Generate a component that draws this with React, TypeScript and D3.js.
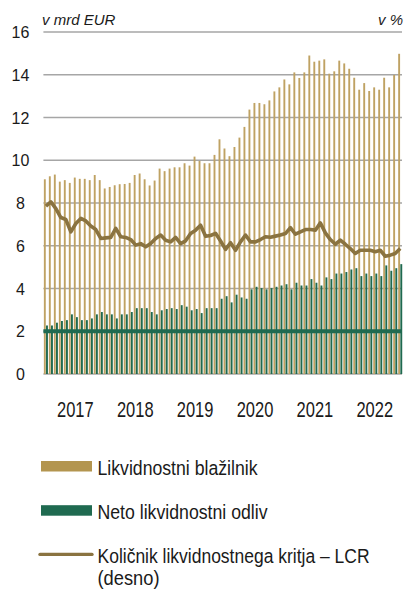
import React from "react";
import * as d3 from "d3";

// Monthly data, Jan 2017 – Dec 2022
const years = ["2017", "2018", "2019", "2020", "2021", "2022"];
const yTicks = [0, 2, 4, 6, 8, 10, 12, 14, 16];

// Likvidnostni blažilnik (v mrd EUR)
const buffer = [
  9.11, 9.25, 9.33, 9.0, 9.07, 8.94, 9.19, 9.13, 9.13, 9.07, 9.31, 9.07,
  8.68, 8.75, 8.83, 8.88, 8.89, 8.94, 9.31, 9.38, 9.11, 8.82, 9.05, 9.61,
  9.49, 9.61, 9.67, 9.67, 9.86, 9.75, 10.17, 9.97, 9.86, 9.86, 10.25, 10.98,
  10.55, 10.19, 10.62, 11.06, 11.56, 12.37, 12.68, 12.68, 12.62, 12.8, 13.22, 13.41,
  13.78, 13.55, 14.11, 13.85, 14.11, 14.9, 14.61, 14.66, 14.72, 14.05, 14.16, 14.66,
  14.53, 14.28, 13.86, 13.3, 13.61, 13.24, 13.41, 13.3, 13.86, 13.41, 13.99, 14.98,
];

// Neto likvidnostni odliv (v mrd EUR)
const outflow = [
  2.27, 2.27, 2.4, 2.48, 2.52, 2.79, 2.66, 2.52, 2.52, 2.6, 2.79, 2.9,
  2.79, 2.79, 2.6, 2.79, 2.79, 2.9, 3.08, 3.08, 3.08, 2.9, 2.79, 2.98,
  3.04, 3.08, 3.04, 3.22, 3.15, 2.98, 3.04, 2.85, 3.08, 3.08, 3.08, 3.52,
  3.64, 3.35, 3.71, 3.58, 3.52, 3.96, 4.08, 4.02, 3.96, 4.02, 4.08, 4.14,
  4.2, 3.96, 4.27, 4.14, 4.14, 4.44, 4.27, 4.14, 4.52, 4.44, 4.7, 4.7,
  4.77, 4.89, 4.95, 4.58, 4.7, 4.58, 4.7, 4.58, 5.08, 4.83, 4.95, 5.14,
];

// Količnik likvidnostnega kritja – LCR (desno), drawn in left-axis units
const lcr = [
  7.85, 8.05, 7.74, 7.32, 7.23, 6.65, 7.04, 7.28, 7.16, 6.92, 6.76, 6.34,
  6.37, 6.39, 6.81, 6.42, 6.39, 6.29, 6.03, 6.1, 5.95, 6.1, 6.34, 6.5,
  6.26, 6.18, 6.39, 6.1, 6.23, 6.57, 6.73, 6.96, 6.44, 6.48, 6.58, 6.22,
  5.83, 6.14, 5.79, 6.18, 6.5, 6.18, 6.18, 6.29, 6.42, 6.4, 6.45, 6.5,
  6.57, 6.85, 6.54, 6.65, 6.76, 6.76, 6.73, 7.07, 6.6, 6.29, 6.07, 6.26,
  6.07, 5.87, 5.64, 5.79, 5.79, 5.79, 5.72, 5.79, 5.51, 5.56, 5.64, 5.87,
];

// Reference level line
const refLevel = [2];

const legendItems = [
  { label: "Likvidnostni blažilnik", kind: "gold", len: 160 },
  { label: "Neto likvidnostni odliv", kind: "green", len: 170 },
  { label: "Količnik likvidnostnega kritja – LCR", kind: "line", len: 272 },
];

const GOLD = "#bfa263";
const GOLD_LEG = "#b3954f";
const GREEN = "#1f6a50";
const LINE = "#8a7340";
const GRID = "#a6a6a6";
const FONT = "'Liberation Sans', Arial, sans-serif";

export default function App() {
  const W = 405;
  const H = 589;
  const left = 43.4;
  const right = 402.7;
  const top = 32;
  const bottom = 374;

  const idx = d3.range(buffer.length);
  const x = d3.scaleBand<number>().domain(idx).range([left, right]).padding(0);
  const sub = d3
    .scaleBand<string>()
    .domain(["buf", "out"])
    .range([0, x.bandwidth()])
    .paddingInner(0.12)
    .paddingOuter(0.22);
  const y = d3.scaleLinear().domain([0, 16]).range([bottom, top]);

  const line = d3
    .line<number>()
    .x((_, i) => (x(i) as number) + x.bandwidth() / 2)
    .y((d) => y(d))
    .curve(d3.curveLinear);

  const LEG_FS = 17.6;
  const LEG_SY = 1.14;

  return (
    <svg
      width={W}
      height={H}
      style={{ position: "absolute", left: 0, top: 0, background: "#fff" }}
      fontFamily={FONT}
    >
      {/* unit labels */}
      <text x={42} y={24.5} fontSize={15} fontStyle="italic" fill="#1a1a1a">
        v mrd EUR
      </text>
      <text x={403} y={24.5} fontSize={15} fontStyle="italic" textAnchor="end" fill="#1a1a1a">
        v %
      </text>

      {/* gridlines */}
      {yTicks.map((t) => (
        <line key={t} x1={left} x2={right - 0.7} y1={y(t)} y2={y(t)} stroke={GRID} strokeWidth={1.5} />
      ))}

      {/* y tick labels */}
      {yTicks.map((t) => (
        <text key={t} x={20.5} y={y(t) + 6} fontSize={16} textAnchor="middle" fill="#1a1a1a">
          {t}
        </text>
      ))}

      {/* bars */}
      {buffer.map((v, i) => (
        <rect
          key={"b" + i}
          x={(x(i) as number) + (sub("buf") as number)}
          width={sub.bandwidth()}
          y={y(v)}
          height={y(0) - y(v)}
          fill={GOLD}
        />
      ))}
      {outflow.map((v, i) => (
        <rect
          key={"o" + i}
          x={(x(i) as number) + (sub("out") as number)}
          width={sub.bandwidth()}
          y={y(v)}
          height={y(0) - y(v)}
          fill={GREEN}
        />
      ))}

      {/* reference line */}
      {refLevel.map((r) => (
        <line key={r} x1={left} x2={right - 0.7} y1={y(r)} y2={y(r)} stroke={GREEN} strokeWidth={4} />
      ))}

      {/* LCR line */}
      <path d={line(lcr) || ""} fill="none" stroke={LINE} strokeWidth={3.6} strokeLinejoin="round" />

      {/* x labels */}
      {years.map((yr, k) => {
        const cx = (x(k * 12) as number) + x.bandwidth() * 6 + 2;
        return (
          <text
            key={yr}
            transform={`translate(${cx},417) scale(1,1.3)`}
            fontSize={16.5}
            textAnchor="middle"
            fill="#1a1a1a"
          >
            {yr}
          </text>
        );
      })}

      {/* legend */}
      {legendItems.map((it, k) => {
        const ty = 475 + k * 44.2;
        return (
          <g key={it.label}>
            {it.kind === "line" ? (
              <line x1={40} x2={92} y1={ty - 9} y2={ty - 9} stroke={LINE} strokeWidth={3.4} strokeLinecap="round" />
            ) : (
              <rect x={41} y={ty - 14} width={51} height={10.5} fill={it.kind === "gold" ? GOLD_LEG : GREEN} />
            )}
            <text
              transform={`translate(97.5,${ty}) scale(1,${LEG_SY})`}
              fontSize={LEG_FS}
              textLength={it.len}
              lengthAdjust="spacingAndGlyphs"
              fill="#1a1a1a"
            >
              {it.label}
            </text>
          </g>
        );
      })}
      <text
        transform={`translate(97.5,585) scale(1,${LEG_SY})`}
        fontSize={LEG_FS}
        textLength={62}
        lengthAdjust="spacingAndGlyphs"
        fill="#1a1a1a"
      >
        (desno)
      </text>
    </svg>
  );
}
